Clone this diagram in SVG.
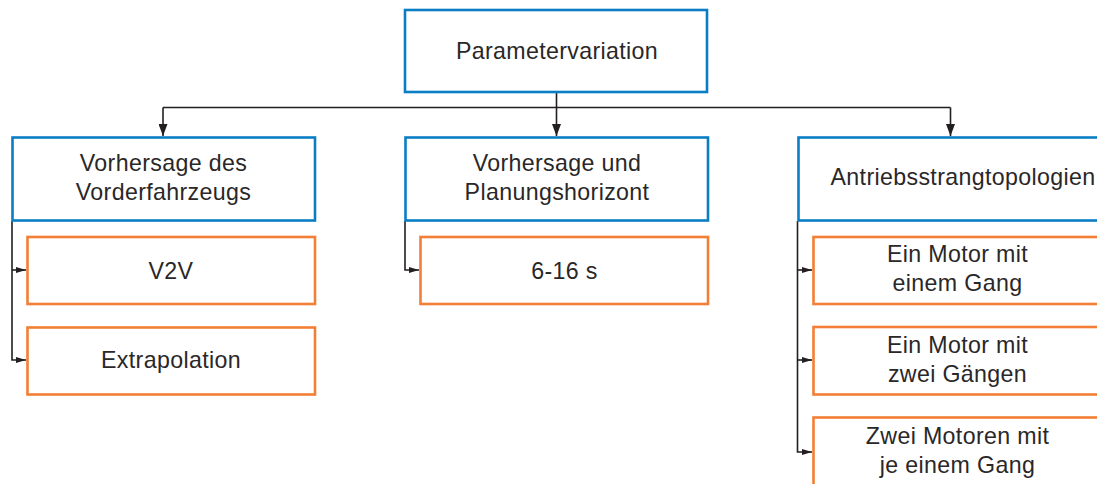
<svg xmlns="http://www.w3.org/2000/svg" width="1097" height="484" viewBox="0 0 1097 484">
  <defs>
    <style>
      .blue { fill: #ffffff; stroke: #0b7dc4; stroke-width: 2.6; }
      .orange { fill: #ffffff; stroke: #f27f35; stroke-width: 2.6; }
      .lbl { font-family: "Liberation Sans", Arial, sans-serif; font-size: 23.2px; fill: #2a2728; text-anchor: middle; letter-spacing: 0.35px; }
      .conn { fill: none; stroke: #231f20; stroke-width: 1.6; }
    </style>
    <marker id="arrBig" markerUnits="userSpaceOnUse" markerWidth="12" markerHeight="9" refX="12" refY="4.5" orient="auto">
      <path d="M0,0 L12,4.5 L0,9 z" fill="#231f20"/>
    </marker>
    <marker id="arrSmall" markerUnits="userSpaceOnUse" markerWidth="10" markerHeight="6" refX="10" refY="3" orient="auto">
      <path d="M0,0 L10,3 L0,6 z" fill="#231f20"/>
    </marker>
  </defs>
  <rect width="1097" height="484" fill="#ffffff"/>

  <g id="connectors">
    <path class="conn" d="M556.5,92 V136" marker-end="url(#arrBig)"/>
    <path class="conn" d="M163,107.5 H950.5"/>
    <path class="conn" d="M163,107.5 V136" marker-end="url(#arrBig)"/>
    <path class="conn" d="M950.5,107.5 V136" marker-end="url(#arrBig)"/>
    <path class="conn" d="M12,221 V360 H26" marker-end="url(#arrSmall)"/>
    <path class="conn" d="M12,270 H26" marker-end="url(#arrSmall)"/>
    <path class="conn" d="M405,221 V270 H419" marker-end="url(#arrSmall)"/>
    <path class="conn" d="M797.5,221 V452 H812" marker-end="url(#arrSmall)"/>
    <path class="conn" d="M797.5,270 H812" marker-end="url(#arrSmall)"/>
    <path class="conn" d="M797.5,360 H812" marker-end="url(#arrSmall)"/>
  </g>

  <g id="n-root">
    <rect class="blue" x="405" y="10" width="302" height="82"/>
    <text class="lbl" x="557" y="59">Parametervariation</text>
  </g>

  <g id="n-vorderfahrzeug">
    <rect class="blue" x="12.5" y="137.5" width="302.5" height="83"/>
    <text class="lbl" x="163.5" y="171">Vorhersage des</text>
    <text class="lbl" x="163.5" y="200">Vorderfahrzeugs</text>
  </g>

  <g id="n-horizont">
    <rect class="blue" x="405.5" y="137.5" width="302.5" height="83"/>
    <text class="lbl" x="557" y="171">Vorhersage und</text>
    <text class="lbl" x="557" y="200">Planungshorizont</text>
  </g>

  <g id="n-topologien">
    <rect class="blue" x="798.5" y="137.5" width="302.5" height="83"/>
    <text class="lbl" x="963" y="185">Antriebsstrangtopologien</text>
  </g>

  <g id="n-v2v">
    <rect class="orange" x="27.5" y="237" width="287.5" height="67"/>
    <text class="lbl" x="171" y="279">V2V</text>
  </g>

  <g id="n-extrapolation">
    <rect class="orange" x="27.5" y="327.5" width="287.5" height="67"/>
    <text class="lbl" x="171" y="368">Extrapolation</text>
  </g>

  <g id="n-6-16s">
    <rect class="orange" x="420.5" y="237" width="287.5" height="67"/>
    <text class="lbl" x="564.5" y="278.5">6-16 s</text>
  </g>

  <g id="n-ein-motor-ein-gang">
    <rect class="orange" x="813.5" y="237" width="287.5" height="67"/>
    <text class="lbl" x="957.5" y="262">Ein Motor mit</text>
    <text class="lbl" x="957.5" y="291">einem Gang</text>
  </g>

  <g id="n-ein-motor-zwei-gaenge">
    <rect class="orange" x="813.5" y="327" width="287.5" height="67.5"/>
    <text class="lbl" x="957.5" y="353">Ein Motor mit</text>
    <text class="lbl" x="957.5" y="382">zwei Gängen</text>
  </g>

  <g id="n-zwei-motoren">
    <rect class="orange" x="813.5" y="417.5" width="287.5" height="70"/>
    <text class="lbl" x="957.5" y="443.5">Zwei Motoren mit</text>
    <text class="lbl" x="957.5" y="472.5">je einem Gang</text>
  </g>
</svg>
